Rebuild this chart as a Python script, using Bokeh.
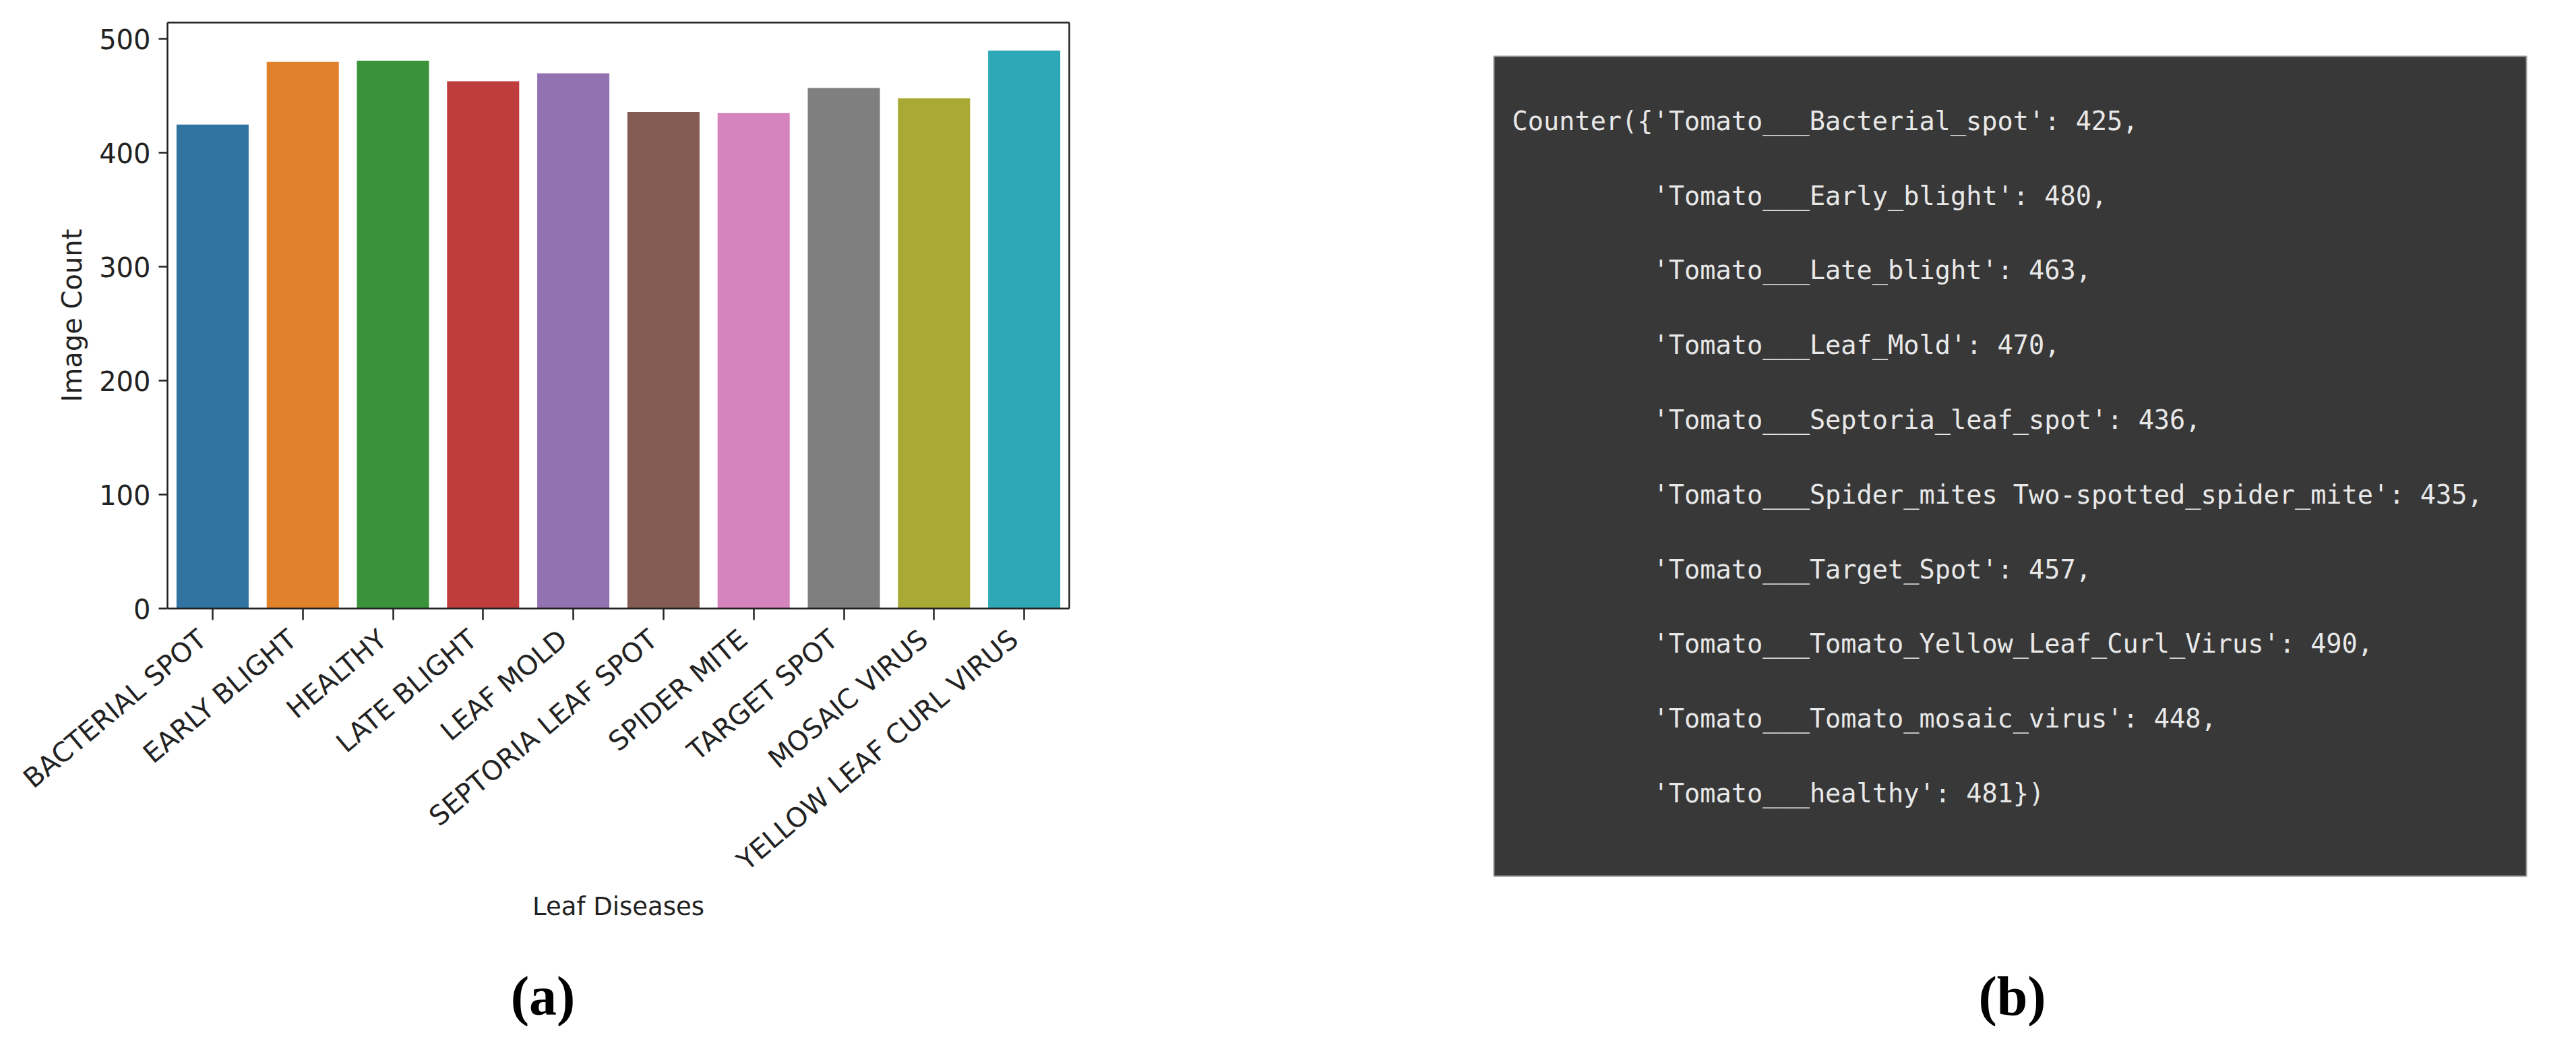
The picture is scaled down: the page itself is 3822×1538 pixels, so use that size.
import math
from bokeh.plotting import figure
from bokeh.models import (Range1d, FixedTicker, Label, LabelSet, ColumnDataSource,
                          LinearAxis)
from bokeh.core.properties import value
from bokeh.embed import file_html
from bokeh.resources import INLINE

# ---- data: panel (a) ----
categories = ["BACTERIAL SPOT", "EARLY BLIGHT", "HEALTHY", "LATE BLIGHT", "LEAF MOLD",
              "SEPTORIA LEAF SPOT", "SPIDER MITE", "TARGET SPOT", "MOSAIC VIRUS",
              "YELLOW LEAF CURL VIRUS"]
image_counts = [425, 480, 481, 463, 470, 436, 435, 457, 448, 490]
bar_colors = ["#3274a1", "#e1812c", "#3a923a", "#c03d3e", "#9372b2",
              "#845b53", "#d684bd", "#7f7f7f", "#a9aa35", "#2ea8b6"]
y_ticks = [0, 100, 200, 300, 400, 500]

# ---- data: panel (b) ----
counter_keys = ["Tomato___Bacterial_spot", "Tomato___Early_blight", "Tomato___Late_blight",
                "Tomato___Leaf_Mold", "Tomato___Septoria_leaf_spot",
                "Tomato___Spider_mites Two-spotted_spider_mite", "Tomato___Target_Spot",
                "Tomato___Tomato_Yellow_Leaf_Curl_Virus", "Tomato___Tomato_mosaic_virus",
                "Tomato___healthy"]
counter_values = [425, 480, 463, 470, 436, 435, 457, 490, 448, 481]

TXT = "#222222"
FONT = "DejaVu Sans"
W, H = 3806, 1522
FL, FR, FT, FB = 248, 1586, 33, 902     # bar-chart axes box, in page pixels
NCAT = len(categories)
X0, X1 = -0.5, NCAT - 0.5
Y_TOP = 514.5

# the plotting frame covers the whole canvas; the ranges are chosen so that the
# bar-chart axes box lands at FL..FR x FT..FB
ppu_x = (FR - FL) / (X1 - X0)
ppu_y = (FB - FT) / Y_TOP
x_start = X0 - FL / ppu_x
y_end = FB / ppu_y
p = figure(width=W, height=H, output_backend="svg", toolbar_location=None,
           x_range=Range1d(x_start, x_start + W / ppu_x),
           y_range=Range1d(y_end - H / ppu_y, y_end),
           x_axis_type=None, y_axis_type=None, min_border=0,
           min_border_left=0, min_border_right=0, min_border_top=0, min_border_bottom=0)
p.outline_line_color = None
p.background_fill_color = "white"
p.border_fill_color = "white"
# page-pixel ranges for the decorations
p.extra_x_ranges = {"px": Range1d(0, W)}
p.extra_y_ranges = {"py": Range1d(H, 0)}

x_pos = list(range(NCAT))
src = ColumnDataSource(dict(x=x_pos, cat=categories, count=image_counts, color=bar_colors))
p.vbar(x="x", top="count", width=0.8, fill_color="color", line_color=None, source=src)

def spine_style(ax):
    ax.axis_line_color = TXT
    ax.axis_line_width = 2.5
    ax.major_tick_line_color = TXT
    ax.major_tick_line_width = 2.5
    ax.minor_tick_line_color = None
    ax.major_tick_in = 0
    ax.major_label_text_font = FONT
    ax.major_label_text_color = TXT

# left axis (y)
yax = LinearAxis(fixed_location=X0, bounds=(0, Y_TOP), ticker=FixedTicker(ticks=y_ticks),
                 axis_label="Image Count")
spine_style(yax)
yax.major_tick_out = 13
yax.major_label_text_font_size = "40px"
yax.major_label_standoff = 12
yax.axis_label_text_font = FONT
yax.axis_label_text_font_style = "normal"
yax.axis_label_text_color = TXT
yax.axis_label_text_font_size = "40px"
yax.axis_label_standoff = 14
p.add_layout(yax, "left")

# bottom axis (x): ticks at every category; names drawn rotated below
xax = LinearAxis(fixed_location=0, bounds=(X0, X1), ticker=FixedTicker(ticks=x_pos))
spine_style(xax)
xax.major_tick_out = 17
xax.major_label_text_color = None
p.add_layout(xax, "below")

# top and right spines of the axes box
tax = LinearAxis(fixed_location=Y_TOP, bounds=(X0, X1), ticker=FixedTicker(ticks=[]))
spine_style(tax)
tax.major_label_text_color = None
p.add_layout(tax, "above")
rax = LinearAxis(fixed_location=X1, bounds=(0, Y_TOP), ticker=FixedTicker(ticks=[]))
spine_style(rax)
rax.major_label_text_color = None
p.add_layout(rax, "right")

# rotated category labels (right aligned at the tick)
lab_src = ColumnDataSource(dict(x=x_pos, cat=categories, ly=[FB + 22] * NCAT))
p.add_layout(LabelSet(x="x", y="ly", text="cat", source=lab_src, y_range_name="py",
                      angle=math.radians(40), text_align="right", text_baseline="top",
                      x_offset=-30, text_font=value(FONT), text_font_size="40px",
                      text_color=TXT))

p.add_layout(Label(x=(FL + FR) / 2, y=1344, text="Leaf Diseases", x_range_name="px",
                   y_range_name="py", text_align="center", text_baseline="alphabetic",
                   text_font=FONT, text_font_size="37px", text_color=TXT))

p.add_layout(Label(x=805, y=1477, text="(a)", x_range_name="px", y_range_name="py",
                   text_align="center", text_baseline="alphabetic",
                   text_font="Liberation Serif", text_font_style="bold",
                   text_font_size="82px", text_color="#000000"))

# ---------------- panel (b): printed Counter ----------------
p.quad(left=[2216], right=[3748], top=[83], bottom=[1299],
       x_range_name="px", y_range_name="py",
       fill_color="#383838", line_color="#9a9a9a", line_width=2)

fs = 38.6
adv = 0.602 * fs
x0 = 2243
n = len(counter_keys)
for i, (k, v) in enumerate(zip(counter_keys, counter_values)):
    end = "})" if i == n - 1 else ","
    if i == 0:
        line = "Counter({'" + k + "': " + str(v) + end
        x = x0
    else:
        line = "'" + k + "': " + str(v) + end
        x = x0 + 9 * adv
    p.add_layout(Label(x=x, y=178.7 + i * 110.8, text=line, x_range_name="px",
                       y_range_name="py", text_align="left", text_baseline="middle",
                       text_font="DejaVu Sans Mono", text_font_size=f"{fs}px",
                       text_color="#e8e8e8"))

p.add_layout(Label(x=2985, y=1477, text="(b)", x_range_name="px", y_range_name="py",
                   text_align="center", text_baseline="alphabetic",
                   text_font="Liberation Serif", text_font_style="bold",
                   text_font_size="82px", text_color="#000000"))

open("out.html", "w").write(file_html(p, INLINE))
